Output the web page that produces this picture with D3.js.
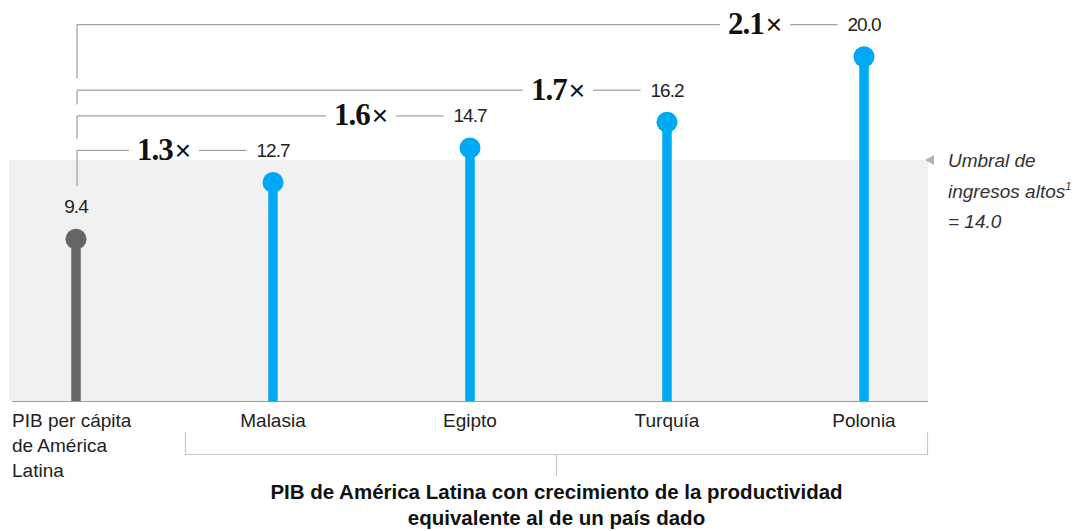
<!DOCTYPE html>
<html>
<head>
<meta charset="utf-8">
<script src="https://cdn.jsdelivr.net/npm/d3@7"></script>
<style>
  html, body { margin: 0; padding: 0; background: #fff; }
  svg { display: block; }
  text { font-family: "Liberation Sans", Arial, sans-serif; fill: #222; }
</style>
</head>
<body>
<svg id="chart" width="1086" height="531"></svg>
<script>
// GDP per capita (thousand USD) — Latin America vs. productivity-growth scenarios
const categoryLines = [
  ["PIB per cápita", "de América", "Latina"],
  ["Malasia"],
  ["Egipto"],
  ["Turquía"],
  ["Polonia"]
];
const categories = ["América Latina", "Malasia", "Egipto", "Turquía", "Polonia"];
const values = [9.4, 12.7, 14.7, 16.2, 20.0];
const multipliers = ["1.3", "1.6", "1.7", "2.1"];
const threshold = 14.0;
const thresholdLines = ["Umbral de", "ingresos altos", "= 14.0"];
const groupTitle = [
  "PIB de América Latina con crecimiento de la productividad",
  "equivalente al de un país dado"
];

const svg = d3.select("#chart");
const fmt = d3.format(".1f");

const x = d3.scalePoint().domain(categories).range([76, 864]);
const y = d3.scaleLinear().domain([0, threshold]).range([401, 160]);

const bandLeft = 9, bandRight = 928;
const baseColor = "#666666", accent = "#00a9f4", ruleColor = "#8c8c8c";

// High-income band (0 .. threshold)
svg.append("rect")
  .attr("x", bandLeft).attr("y", y(threshold))
  .attr("width", bandRight - bandLeft).attr("height", y(0) - y(threshold))
  .attr("fill", "#f1f1f1");

// Baseline
svg.append("line")
  .attr("x1", bandLeft + 3).attr("x2", bandRight)
  .attr("y1", y(0) + 0.5).attr("y2", y(0) + 0.5)
  .attr("stroke", "#9a9a9a").attr("stroke-width", 1);

// Lollipops
const data = categories.map((c, i) => ({ c, v: values[i], i }));
const color = d => d.i === 0 ? baseColor : accent;

svg.selectAll("line.stem").data(data).enter().append("line")
  .attr("class", "stem")
  .attr("x1", d => x(d.c)).attr("x2", d => x(d.c))
  .attr("y1", y(0)).attr("y2", d => y(d.v))
  .attr("stroke", color).attr("stroke-width", 9.5);

svg.selectAll("circle.dot").data(data).enter().append("circle")
  .attr("class", "dot")
  .attr("cx", d => x(d.c)).attr("cy", d => y(d.v))
  .attr("r", 10.5).attr("fill", color);

// Label for the reference value
svg.append("text")
  .attr("x", x(categories[0])).attr("y", y(values[0]) - 26)
  .attr("text-anchor", "middle")
  .attr("font-size", 19).attr("letter-spacing", -1)
  .text(fmt(values[0]));

// Multiplier brackets from the reference value to each scenario
const originX = x(categories[0]) + 1;
const bracketY = d => y(d.v) - 32.5;
const scen = data.slice(1);

scen.forEach((d, k) => {
  const ly = bracketY(d);
  const g = svg.append("g");

  // value label sitting on the bracket
  const val = g.append("text")
    .attr("x", x(d.c)).attr("y", ly + 7)
    .attr("text-anchor", "middle")
    .attr("font-size", 19).attr("letter-spacing", -1)
    .text(fmt(d.v));
  const vb = val.node().getBBox();

  // multiplier label
  const mult = g.append("text")
    .attr("x", x(d.c) - 82).attr("y", ly + 10)
    .attr("text-anchor", "end");
  mult.append("tspan")
    .attr("font-family", "'Liberation Serif', 'Times New Roman', serif")
    .attr("font-weight", "bold").attr("font-size", 31)
    .attr("letter-spacing", -1)
    .style("fill", "#111")
    .text(multipliers[k]);
  mult.append("tspan")
    .attr("font-size", 28).attr("dx", 2)
    .style("fill", "#111")
    .text("×");
  const mb = mult.node().getBBox();

  // vertical segment stops short of the bracket below
  const below = k > 0 ? bracketY(scen[k - 1]) - 11 : y(values[0]) - 53;

  g.append("path")
    .attr("d", `M${originX},${below}V${ly + 0.5}H${mb.x - 8}`)
    .attr("fill", "none").attr("stroke", ruleColor).attr("stroke-width", 1);
  g.append("line")
    .attr("x1", mb.x + mb.width + 8).attr("x2", vb.x - 10)
    .attr("y1", ly + 0.5).attr("y2", ly + 0.5)
    .attr("stroke", ruleColor).attr("stroke-width", 1);
});

// Category labels
svg.selectAll("text.cat").data(data).enter().append("text")
  .attr("class", "cat")
  .attr("x", d => d.i === 0 ? 12 : x(d.c))
  .attr("y", 427)
  .attr("text-anchor", d => d.i === 0 ? "start" : "middle")
  .attr("font-size", 19)
  .each(function (d) {
    const t = d3.select(this);
    categoryLines[d.i].forEach((ln, j) => {
      t.append("tspan").attr("x", d.i === 0 ? 12 : x(d.c))
        .attr("dy", j === 0 ? 0 : 25).text(ln);
    });
  });

// Group bracket under the scenario countries
const gx0 = x(categories[1]) - 88, gx1 = bandRight, gy = 454.5;
const gmid = (gx0 + gx1) / 2;
svg.append("path")
  .attr("d", `M${gx0 + 0.5},432V${gy}H${gx1 - 0.5}V432M${gmid},${gy}V476`)
  .attr("fill", "none").attr("stroke", "#c8c8c8").attr("stroke-width", 1.2);

svg.append("text")
  .attr("x", gmid).attr("y", 499)
  .attr("text-anchor", "middle")
  .attr("font-size", 20.5).attr("font-weight", "bold")
  .selectAll("tspan").data(groupTitle).enter().append("tspan")
  .attr("x", gmid).attr("dy", (d, i) => i === 0 ? 0 : 26)
  .style("fill", "#111")
  .text(d => d);

// Threshold annotation
const ty = y(threshold);
svg.append("path")
  .attr("d", `M${bandRight - 3},${ty} l9,-5 v10 z`)
  .attr("fill", "#b3b3b3");

thresholdLines.forEach((ln, j) => {
  const t = svg.append("text")
    .attr("x", 948).attr("y", ty + 7 + j * 30.5)
    .attr("font-size", 19).attr("font-style", "italic")
    .style("fill", "#333");
  t.append("tspan").text(ln);
  if (j === 1) {
    t.append("tspan").attr("dy", -8).attr("font-size", 11).text("1");
  }
});
</script>
</body>
</html>
